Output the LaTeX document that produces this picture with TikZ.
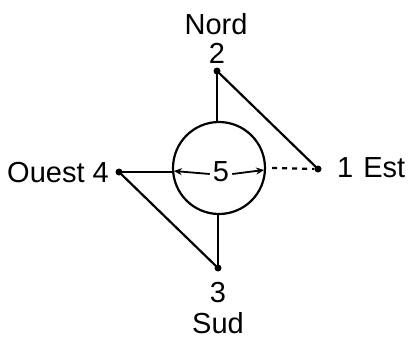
\documentclass[tikz,border=0pt]{standalone}
\usepackage{fontspec}
\setmainfont{Liberation Sans}
\usetikzlibrary{arrows.meta}
\begin{document}
\begin{tikzpicture}[x=1pt,y=-1pt,
  line/.style={line width=2.2pt},
  dot/.style={circle,fill=black,inner sep=0pt,minimum size=7pt},
  lbl/.style={font=\fontsize{29}{31}\selectfont,inner sep=0pt},
  arr/.style={line width=1.8pt,-{Stealth[length=8pt,width=7pt]}}]
\useasboundingbox (0,0) rectangle (417,338);
\node[circle,draw,line width=2.2pt,minimum size=92pt,inner sep=0pt] (c) at (219,168) {};
\node[dot] (p2) at (217,71) {};
\node[dot] (p1) at (318,169) {};
\node[dot] (p4) at (119,172) {};
\node[dot] (p3) at (218,268) {};
\node[lbl] (nord) at (216,24) {Nord};
\node[lbl] (n2) at (217,53) {2};
\node[lbl] (n3) at (218,293) {3};
\node[lbl] (sud) at (218,323) {Sud};
\node[lbl,anchor=east] (ouest) at (109,173) {Ouest 4};
\node[lbl,anchor=west] (est) at (337,168) {1\hspace{10pt}Est};
\node[lbl] (five) at (221,172) {5};
\draw[line] (p2.center) -- (p2.center |- c.north);
\draw[line] (p2.center) -- (p1.center);
\draw[line] (p3.center) -- (p3.center |- c.south);
\draw[line] (p4.center) -- (p4.center -| c.west);
\draw[line] (p4.center) -- (p3.center);
\draw[line,dash pattern=on 5pt off 5pt] ([xshift=6pt]c.east) -- (p1);
\draw[arr] ([xshift=-3pt,yshift=-2pt]five.west) -- ([xshift=2pt,yshift=-3pt]c.west);
\draw[arr] ([xshift=3pt,yshift=-2pt]five.east) -- ([xshift=-2pt,yshift=-2pt]c.east);
\end{tikzpicture}
\end{document}
